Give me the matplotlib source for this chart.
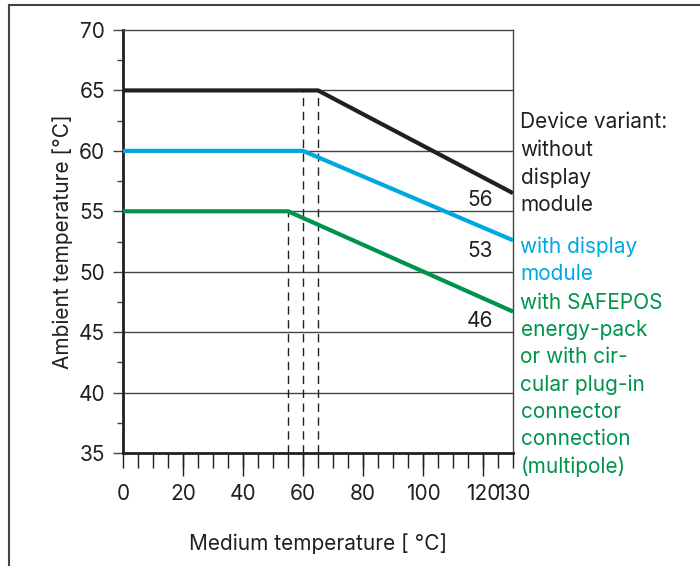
import matplotlib
matplotlib.use("Agg")
from matplotlib import pyplot as plt
from matplotlib.lines import Line2D
import numpy as np

plt.rcParams['font.family'] = ['Inter', 'DejaVu Sans']

# derating curves: (medium temp, ambient temp)
x_black = [0, 65, 130]
y_black = [65, 65, 56.5]
x_blue = [0, 60, 130]
y_blue = [60, 60, 52.6]
x_green = [0, 55, 130]
y_green = [55, 55, 46.7]

# dashed helper lines: x position, top value
dash_x = [55, 60, 65]
dash_top = [55, 65, 65]

end_labels = ["56", "53", "46"]
end_label_y = [55.4, 51.25, 45.45]

xtick_labels_at = [0, 20, 40, 60, 80, 100, 120, 130]

BLACK = '#231f20'
BLUE = '#00a8e1'
GREEN = '#00934b'
TXT = '#231f20'
FS = 15

fig = plt.figure(figsize=(7, 5.66), dpi=100)
ax = fig.add_axes([123/700, 1-453/566, 390/700, 423/566])

ax.set_xlim(0, 130)
ax.set_ylim(35, 70)

# grid lines
for yv in range(40, 70, 5):
    ax.axhline(yv, color='#444444', lw=1.0, zorder=1)

for xv, top in zip(dash_x, dash_top):
    ax.plot([xv, xv], [35, top], color=BLACK, lw=1.0, ls=(0, (6, 4)), zorder=2)

ax.plot(x_black, y_black, color=BLACK, lw=3.0, zorder=3, solid_capstyle='butt')
ax.plot(x_blue, y_blue, color=BLUE, lw=3.0, zorder=3, solid_capstyle='butt')
ax.plot(x_green, y_green, color=GREEN, lw=3.0, zorder=3, solid_capstyle='butt')

for lab, yv in zip(end_labels, end_label_y):
    ax.text(123.3, yv, lab, ha='right', va='baseline', fontsize=FS, color=TXT)

# spines
ax.spines['left'].set_linewidth(2.0)
ax.spines['left'].set_color(BLACK)
ax.spines['bottom'].set_linewidth(2.0)
ax.spines['bottom'].set_color(BLACK)
ax.spines['top'].set_linewidth(1.0)
ax.spines['top'].set_color('#444444')
ax.spines['right'].set_linewidth(1.0)
ax.spines['right'].set_color('#444444')

# y ticks
ax.set_yticks(np.arange(35, 71, 5))
ax.set_yticks(np.arange(37.5, 70, 5), minor=True)
ax.tick_params(axis='y', which='major', length=7, width=1.0, color='#444444',
               labelsize=FS, labelcolor=TXT, pad=6)
ax.tick_params(axis='y', which='minor', length=4.5, width=1.0, color='#444444')

# x ticks: short every 5, long every 20
xt = np.arange(0, 131, 5)
ax.set_xticks(xt)
ax.set_xticklabels([str(v) if v in xtick_labels_at else '' for v in xt])
ax.set_xticks(np.arange(20, 121, 20), minor=True)
ax.xaxis.remove_overlapping_locs = False
ax.tick_params(axis='x', which='major', length=10.5, width=1.0, color=BLACK,
               labelsize=FS, labelcolor=TXT, pad=12)
ax.tick_params(axis='x', which='minor', length=16.5, width=1.0, color=BLACK)

ax.set_xlabel('Medium temperature [ °C]', fontsize=FS, color=TXT, labelpad=21)
ax.set_ylabel('Ambient temperature [°C]', fontsize=FS, color=TXT, labelpad=4)

# variant texts right of the plot (baseline = last line)
ax.text(132.5, 55.0, 'Device variant:\nwithout\ndisplay\nmodule', ha='left', va='baseline',
        fontsize=FS, color=TXT, linespacing=1.47, clip_on=False)
ax.text(132.5, 49.3, 'with display\nmodule', ha='left', va='baseline',
        fontsize=FS, color=BLUE, linespacing=1.47, clip_on=False)
ax.text(132.5, 33.32, 'with SAFEPOS\nenergy-pack\nor with cir-\ncular plug-in\nconnector\nconnection\n(multipole)',
        ha='left', va='baseline', fontsize=FS, color=GREEN, linespacing=1.45, clip_on=False)

# outer frame
fig.add_artist(Line2D([9/700, 9/700], [0, 1-5/566], color='#444444', lw=1.5))
fig.add_artist(Line2D([9/700, 1], [1-5/566, 1-5/566], color='#444444', lw=1.5))

fig.savefig('out.png', dpi=100)
